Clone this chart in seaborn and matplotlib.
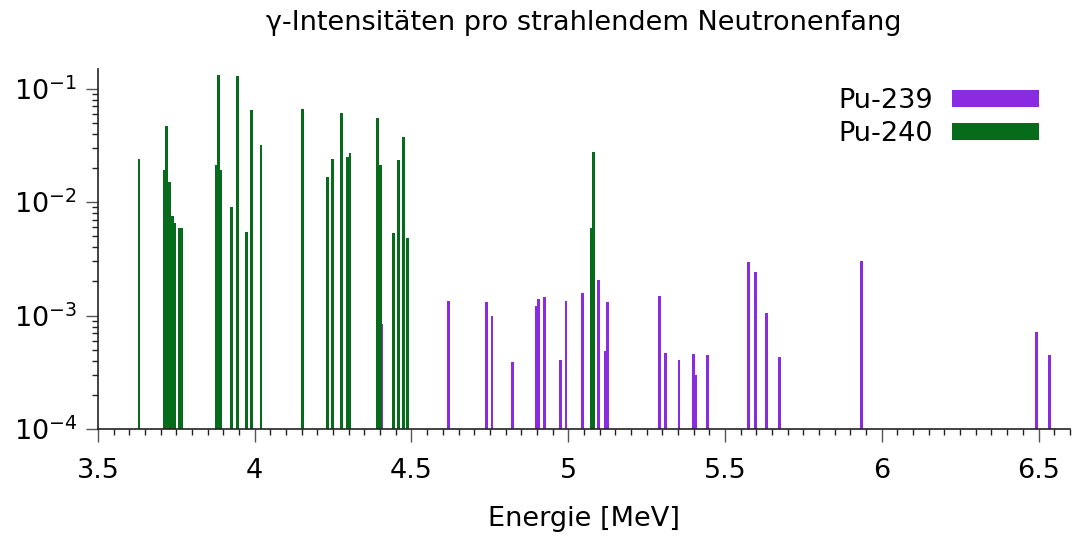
import matplotlib
matplotlib.use('Agg')
import matplotlib.pyplot as plt
from matplotlib.ticker import MultipleLocator, FuncFormatter
import numpy as np
import pandas as pd
import seaborn as sns

# gamma lines (energy in MeV, intensity per radiative capture)
pu239_energy = [4.406, 4.617, 4.738, 4.757, 4.823, 4.899, 4.905, 4.925, 4.976, 4.993,
                5.045, 5.096, 5.118, 5.124, 5.291, 5.309, 5.353, 5.400, 5.406, 5.444,
                5.575, 5.596, 5.633, 5.674, 5.936, 6.493, 6.534]
pu239_intensity = [0.00084, 0.00134, 0.00132, 0.00100, 0.00039, 0.00121, 0.00140, 0.00145, 0.00041, 0.00135,
                   0.00159, 0.00207, 0.00049, 0.00133, 0.00148, 0.00047, 0.00041, 0.00046, 0.00030, 0.00045,
                   0.00295, 0.00241, 0.00105, 0.00043, 0.00305, 0.00071, 0.00045]

pu240_energy = [3.631, 3.711, 3.719, 3.728, 3.737, 3.743, 3.760, 3.766, 3.878, 3.885,
                3.891, 3.926, 3.946, 3.974, 3.990, 4.020, 4.153, 4.232, 4.247, 4.276,
                4.297, 4.304, 4.391, 4.400, 4.442, 4.458, 4.474, 4.487, 5.073, 5.080]
pu240_intensity = [0.0242, 0.0192, 0.0474, 0.0151, 0.0075, 0.0065, 0.0059, 0.0059, 0.0213, 0.132,
                   0.0192, 0.0091, 0.1285, 0.0055, 0.0648, 0.0322, 0.0666, 0.0167, 0.0240, 0.0617,
                   0.0252, 0.0270, 0.0551, 0.0213, 0.0053, 0.0235, 0.0374, 0.0048, 0.0059, 0.0277]

isotopes = ['Pu-239', 'Pu-240']
colors = ['#8a2be2', '#076b1c']

df = pd.DataFrame({
    'E': pu239_energy + pu240_energy,
    'I': pu239_intensity + pu240_intensity,
    'iso': ['Pu-239'] * len(pu239_energy) + ['Pu-240'] * len(pu240_energy),
})

sns.set_style('white')
plt.rcParams['font.family'] = ['DejaVu Sans']
plt.rcParams['font.size'] = 19.5
plt.rcParams['text.color'] = 'black'
plt.rcParams['axes.labelcolor'] = 'black'
plt.rcParams['xtick.color'] = 'black'
plt.rcParams['ytick.color'] = 'black'

fig = plt.figure(figsize=(10.72, 5.36), dpi=100)
ax = fig.add_axes([0.0914, 0.1996, 0.9066, 0.6714])

# bar width ~0.009 MeV, seaborn scales width by the min spacing of x values
native_w = np.diff(np.unique(df['E'])).min()
sns.barplot(data=df, x='E', y='I', hue='iso', hue_order=isotopes, palette=colors,
            native_scale=True, dodge=False, width=0.009 / native_w,
            saturation=1, linewidth=0, errorbar=None, ax=ax)

ax.set_yscale('log')
ax.set_ylim(1e-4, 0.149)
ax.set_xlim(3.5, 6.6)
ax.xaxis.set_major_locator(MultipleLocator(0.5))
ax.xaxis.set_minor_locator(MultipleLocator(0.05))
ax.xaxis.set_major_formatter(FuncFormatter(lambda v, p: '%g' % v))

ax.tick_params(axis='x', which='both', bottom=True)
ax.tick_params(axis='y', which='both', left=True)
ax.tick_params(axis='both', which='major', direction='out', length=9, width=1,
               color='#555555', labelcolor='black', labelsize=19.5)
ax.tick_params(axis='x', which='major', pad=12)
ax.tick_params(axis='y', which='major', pad=6)
ax.tick_params(axis='both', which='minor', direction='out', length=4.5, width=1, color='#222222')

sns.despine(ax=ax)
for s in ['left', 'bottom']:
    ax.spines[s].set_color('#222222')
    ax.spines[s].set_linewidth(1.2)

ax.set_xlabel('Energie [MeV]', fontsize=19.5, labelpad=16)
ax.set_ylabel('')
ax.set_title('γ-Intensitäten pro strahlendem Neutronenfang', fontsize=19.5, pad=28)

handles, labels = ax.get_legend_handles_labels()
ax.legend(handles, labels, loc='upper right', bbox_to_anchor=(0.993, 1.015),
          frameon=False, markerfirst=False, handlelength=3.2, handleheight=0.6,
          handletextpad=0.7, labelspacing=0.25, fontsize=19.5)

fig.savefig('out.png', dpi=100)
